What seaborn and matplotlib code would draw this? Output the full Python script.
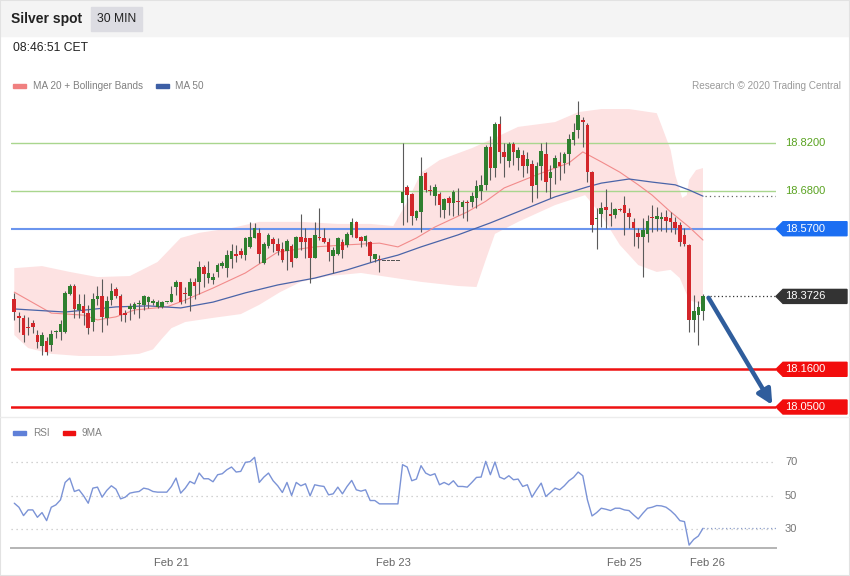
import numpy as np
import matplotlib
matplotlib.use("Agg")
import matplotlib.pyplot as plt
import matplotlib.transforms as mtransforms
from matplotlib.patches import Rectangle, Polygon
from matplotlib.lines import Line2D
import seaborn as sns

# 30 min candles
opens = [18.365, 18.315, 18.309, 18.283, 18.294, 18.260, 18.229, 18.244, 18.231, 18.268,
         18.268, 18.268, 18.380, 18.404, 18.333, 18.345, 18.323, 18.297, 18.364, 18.375,
         18.311, 18.362, 18.393, 18.374, 18.323, 18.335, 18.337, 18.350, 18.348, 18.355,
         18.354, 18.343, 18.341, 18.355, 18.357, 18.399, 18.414, 18.383, 18.374, 18.416,
         18.416, 18.459, 18.425, 18.421, 18.443, 18.462, 18.456, 18.482, 18.496, 18.505,
         18.493, 18.518, 18.544, 18.557, 18.469, 18.521, 18.540, 18.525, 18.511, 18.506,
         18.521, 18.486, 18.545, 18.544, 18.542, 18.484, 18.545, 18.542, 18.532, 18.491,
         18.495, 18.530, 18.523, 18.552, 18.591, 18.547, 18.535, 18.532, 18.482, 18.482,
         18.477, 18.477, 18.477, 18.477, 18.644, 18.693, 18.671, 18.600, 18.620, 18.732,
         18.682, 18.664, 18.671, 18.625, 18.659, 18.644, 18.651, 18.634, 18.649, 18.649,
         18.661, 18.680, 18.698, 18.809, 18.748, 18.874, 18.793, 18.768, 18.816, 18.777,
         18.785, 18.754, 18.758, 18.698, 18.754, 18.787, 18.719, 18.748, 18.766, 18.763,
         18.787, 18.829, 18.858, 18.887, 18.873, 18.736, 18.598, 18.613, 18.634, 18.612,
         18.610, 18.628, 18.639, 18.615, 18.591, 18.557, 18.547, 18.554, 18.605, 18.598,
         18.598, 18.604, 18.600, 18.589, 18.581, 18.552, 18.523, 18.304, 18.318, 18.330]
closes = [18.326, 18.309, 18.260, 18.280, 18.282, 18.241, 18.260, 18.210, 18.262, 18.272,
          18.291, 18.382, 18.404, 18.335, 18.351, 18.323, 18.280, 18.364, 18.374, 18.314,
          18.360, 18.387, 18.375, 18.317, 18.317, 18.346, 18.350, 18.353, 18.374, 18.370,
          18.359, 18.355, 18.357, 18.356, 18.380, 18.414, 18.357, 18.379, 18.414, 18.404,
          18.459, 18.438, 18.442, 18.430, 18.464, 18.469, 18.493, 18.506, 18.489, 18.493,
          18.542, 18.547, 18.571, 18.495, 18.525, 18.552, 18.525, 18.505, 18.479, 18.534,
          18.474, 18.547, 18.530, 18.530, 18.484, 18.552, 18.542, 18.530, 18.503, 18.507,
          18.544, 18.507, 18.554, 18.591, 18.544, 18.535, 18.550, 18.491, 18.495, 18.480,
          18.477, 18.477, 18.477, 18.477, 18.678, 18.668, 18.608, 18.622, 18.724, 18.683,
          18.680, 18.693, 18.639, 18.657, 18.644, 18.678, 18.647, 18.649, 18.646, 18.664,
          18.696, 18.698, 18.809, 18.748, 18.874, 18.793, 18.780, 18.816, 18.795, 18.800,
          18.754, 18.772, 18.696, 18.754, 18.798, 18.707, 18.734, 18.775, 18.754, 18.787,
          18.831, 18.851, 18.902, 18.882, 18.736, 18.581, 18.602, 18.631, 18.625, 18.608,
          18.628, 18.626, 18.615, 18.605, 18.573, 18.547, 18.566, 18.593, 18.600, 18.608,
          18.605, 18.593, 18.589, 18.573, 18.532, 18.525, 18.304, 18.330, 18.343, 18.373]
highs = [18.382, 18.328, 18.318, 18.314, 18.304, 18.275, 18.270, 18.255, 18.275, 18.275,
         18.304, 18.388, 18.408, 18.408, 18.380, 18.379, 18.348, 18.382, 18.403, 18.422,
         18.375, 18.411, 18.401, 18.380, 18.333, 18.353, 18.355, 18.362, 18.377, 18.374,
         18.364, 18.362, 18.359, 18.357, 18.404, 18.421, 18.416, 18.401, 18.427, 18.427,
         18.476, 18.464, 18.476, 18.440, 18.469, 18.476, 18.508, 18.525, 18.523, 18.513,
         18.547, 18.589, 18.586, 18.571, 18.532, 18.557, 18.547, 18.542, 18.532, 18.540,
         18.525, 18.550, 18.612, 18.573, 18.544, 18.591, 18.630, 18.573, 18.542, 18.518,
         18.547, 18.540, 18.560, 18.600, 18.593, 18.550, 18.552, 18.535, 18.495, 18.493,
         18.477, 18.477, 18.477, 18.477, 18.819, 18.698, 18.673, 18.625, 18.780, 18.734,
         18.698, 18.700, 18.678, 18.661, 18.664, 18.683, 18.690, 18.654, 18.654, 18.678,
         18.712, 18.727, 18.814, 18.841, 18.880, 18.900, 18.819, 18.824, 18.824, 18.809,
         18.800, 18.795, 18.770, 18.766, 18.819, 18.824, 18.756, 18.785, 18.793, 18.795,
         18.845, 18.877, 18.943, 18.897, 18.877, 18.738, 18.630, 18.649, 18.686, 18.649,
         18.630, 18.631, 18.664, 18.630, 18.600, 18.571, 18.600, 18.610, 18.639, 18.634,
         18.620, 18.625, 18.618, 18.605, 18.591, 18.571, 18.525, 18.377, 18.359, 18.379]
lows = [18.304, 18.270, 18.241, 18.260, 18.265, 18.221, 18.202, 18.202, 18.212, 18.250,
        18.246, 18.265, 18.377, 18.311, 18.311, 18.289, 18.262, 18.272, 18.348, 18.270,
        18.289, 18.348, 18.367, 18.301, 18.299, 18.303, 18.320, 18.311, 18.333, 18.338,
        18.348, 18.338, 18.338, 18.353, 18.355, 18.377, 18.350, 18.353, 18.330, 18.365,
        18.379, 18.401, 18.411, 18.409, 18.430, 18.456, 18.430, 18.455, 18.474, 18.484,
        18.479, 18.513, 18.542, 18.469, 18.466, 18.513, 18.503, 18.493, 18.474, 18.450,
        18.459, 18.484, 18.508, 18.484, 18.411, 18.484, 18.537, 18.527, 18.476, 18.440,
        18.493, 18.484, 18.518, 18.547, 18.542, 18.518, 18.521, 18.474, 18.474, 18.443,
        18.477, 18.477, 18.477, 18.477, 18.581, 18.591, 18.581, 18.596, 18.561, 18.678,
        18.668, 18.639, 18.605, 18.600, 18.610, 18.608, 18.610, 18.600, 18.593, 18.634,
        18.630, 18.654, 18.683, 18.712, 18.722, 18.761, 18.722, 18.751, 18.756, 18.741,
        18.722, 18.732, 18.649, 18.659, 18.712, 18.678, 18.659, 18.700, 18.712, 18.732,
        18.756, 18.814, 18.834, 18.809, 18.707, 18.561, 18.511, 18.576, 18.573, 18.579,
        18.600, 18.622, 18.552, 18.573, 18.521, 18.513, 18.430, 18.532, 18.561, 18.563,
        18.563, 18.561, 18.561, 18.554, 18.521, 18.521, 18.270, 18.270, 18.231, 18.304]

# RSI, one value per candle
rsi = [45.4, 43.0, 38.0, 41.4, 41.4, 37.0, 39.8, 35.0, 43.0, 44.4,
       47.4, 57.8, 60.4, 52.4, 53.4, 49.8, 45.4, 54.4, 55.0, 49.0,
       53.0, 55.8, 53.8, 48.0, 49.0, 51.4, 52.0, 52.4, 54.4, 53.8,
       52.4, 52.0, 52.0, 52.0, 55.4, 60.4, 51.4, 54.4, 58.4, 57.0,
       63.4, 60.0, 60.0, 58.2, 62.4, 63.0, 65.4, 67.0, 64.0, 64.4,
       69.8, 70.2, 72.8, 57.8, 61.0, 63.4, 58.8, 55.8, 51.8, 57.8,
       50.0, 57.8, 55.8, 57.0, 49.8, 56.4, 55.8, 55.4, 50.4, 51.0,
       55.0, 51.0, 55.4, 59.0, 53.4, 52.6, 53.4, 47.0, 47.0, 45.0,
       45.0, 45.0, 45.0, 45.0, 68.4, 67.0, 58.8, 59.8, 67.8, 63.4,
       62.0, 63.0, 56.4, 57.8, 56.4, 58.8, 55.4, 55.4, 55.0, 57.8,
       60.8, 61.0, 70.4, 62.4, 70.0, 61.0, 59.8, 61.8, 59.4, 59.8,
       55.4, 56.4, 49.0, 53.4, 57.4, 49.4, 51.8, 54.4, 53.4, 55.8,
       58.8, 60.8, 64.0, 61.8, 47.4, 37.8, 39.8, 42.4, 41.8, 41.0,
       42.4, 42.4, 41.4, 41.0, 38.4, 36.0, 39.4, 42.4, 43.0, 44.0,
       43.8, 43.0, 41.0, 38.4, 35.0, 34.4, 20.4, 23.8, 25.8, 30.4]

# moving averages and bollinger bands, sampled at some candles
ma20_idx = [0, 8, 15, 18, 22, 26, 33, 37, 43, 50, 57, 65, 72, 79, 83, 87, 91, 98, 102, 106,
            113, 120, 123, 127, 131, 135, 138, 142, 146, 149]
ma20 = [18.385, 18.324, 18.318, 18.304, 18.313, 18.333, 18.342, 18.362, 18.397, 18.441,
        18.502, 18.517, 18.523, 18.528, 18.517, 18.543, 18.575, 18.619, 18.650, 18.689,
        18.727, 18.762, 18.794, 18.765, 18.735, 18.698, 18.668, 18.619, 18.575, 18.537]
ma50_idx = [0, 11, 22, 29, 36, 43, 50, 57, 65, 72, 79, 83, 88, 96, 103, 110, 117, 124,
            127, 133, 138, 143, 146, 149]
ma50 = [18.336, 18.327, 18.342, 18.345, 18.339, 18.356, 18.383, 18.406, 18.426, 18.450,
        18.479, 18.493, 18.517, 18.552, 18.587, 18.625, 18.663, 18.692, 18.703, 18.715,
        18.706, 18.698, 18.683, 18.665]
bb_up_idx = [0, 6, 12, 18, 25, 31, 36, 40, 47, 53, 62, 70, 77, 82, 85, 88, 92, 99, 103, 109,
             117, 122, 127, 133, 139, 140, 142, 143, 144.5, 145.5, 146, 147.5, 149]
bb_up = [18.455, 18.461, 18.444, 18.429, 18.432, 18.473, 18.543, 18.558, 18.572, 18.590,
         18.590, 18.584, 18.584, 18.578, 18.648, 18.733, 18.770, 18.805, 18.829, 18.867,
         18.881, 18.910, 18.919, 18.919, 18.907, 18.872, 18.800, 18.727, 18.660, 18.668,
         18.712, 18.741, 18.747]
bb_lo_idx = [0, 3, 8, 14, 21, 27, 30, 32, 34, 37, 43, 49, 53, 57.5, 62, 68, 75, 81, 88, 96,
             100, 102, 104, 109, 117, 123.5, 127, 131, 135, 139, 142, 144, 146, 149]
bb_lo = [18.260, 18.222, 18.205, 18.199, 18.199, 18.205, 18.218, 18.250, 18.280, 18.298,
         18.310, 18.321, 18.348, 18.385, 18.415, 18.432, 18.441, 18.429, 18.415, 18.403,
         18.400, 18.479, 18.555, 18.590, 18.639, 18.668, 18.610, 18.523, 18.464, 18.444,
         18.450, 18.426, 18.362, 18.348]

resistances = [18.82, 18.68]
pivot = 18.57
supports = [18.16, 18.05]
last_price = 18.3726
rsi_levels = [70, 50, 30]
date_idx = [34, 82, 132, 150]
date_labels = ["Feb 21", "Feb 23", "Feb 25", "Feb 26"]

W, H = 850, 576
sns.set_theme(style="white")
plt.rcParams["font.family"] = ["Liberation Sans", "DejaVu Sans"]

fig = plt.figure(figsize=(W / 100, H / 100), dpi=100)


def px_rect(x0, y0, x1, y1):
    return [x0 / W, 1 - y1 / H, (x1 - x0) / W, (y1 - y0) / H]


def fx(x):
    return x / W


def fy(y):
    return 1 - y / H


# header and frame
fig.patches.append(Rectangle((0, fy(36)), 1, 36 / H, transform=fig.transFigure,
                             color="#f4f4f4", zorder=0))
fig.patches.append(Rectangle((fx(91), fy(31)), 51 / W, 24 / H, transform=fig.transFigure,
                             color="#dcdce2", zorder=1))
fig.patches.append(Rectangle((0, 0), 1, 1, transform=fig.transFigure, fill=False,
                             edgecolor="#e2e2e2", lw=1.5, zorder=1))
fig.lines.append(Line2D([0, 1], [fy(417), fy(417)], transform=fig.transFigure,
                        color="#ececec", lw=1))
fig.text(fx(11), fy(19.5), "Silver spot", fontsize=10, weight="bold", color="#222222", va="center")
fig.text(fx(116.5), fy(19.5), "30 MIN", fontsize=8.7, color="#222222", va="center", ha="center")
fig.text(fx(13), fy(48), "08:46:51 CET", fontsize=8.7, color="#222222", va="center")

# legends
fig.patches.append(Rectangle((fx(13), fy(88)), 13 / W, 4 / H, transform=fig.transFigure,
                             color="#f08080"))
fig.text(fx(33), fy(86), "MA 20 + Bollinger Bands", fontsize=7.2, color="#808080", va="center")
fig.patches.append(Rectangle((fx(156), fy(88)), 13 / W, 4 / H, transform=fig.transFigure,
                             color="#3d5fa5"))
fig.text(fx(175), fy(86), "MA 50", fontsize=7.2, color="#808080", va="center")
fig.text(fx(841), fy(86), "Research \u00a9 2020 Trading Central", fontsize=7.2,
         color="#9a9a9a", va="center", ha="right")
fig.patches.append(Rectangle((fx(13), fy(435)), 13 / W, 4 / H, transform=fig.transFigure,
                             color="#5f80d8"))
fig.text(fx(33), fy(433), "RSI", fontsize=7.2, color="#808080", va="center")
fig.patches.append(Rectangle((fx(63), fy(435)), 12 / W, 4 / H, transform=fig.transFigure,
                             color="#ee1111"))
fig.text(fx(82), fy(433), "9MA", fontsize=7.2, color="#808080", va="center")

n = len(closes)
idx = np.arange(n)
xlim = (-0.71, 164.8)

# ---- price panel ----
ax = fig.add_axes(px_rect(11, 95, 776, 417))
ax.set_xlim(*xlim)
ax.set_ylim(18.0209, 18.960)
ax.axis("off")
trans = mtransforms.blended_transform_factory(ax.transAxes, ax.transData)

band_x = np.r_[bb_up_idx, bb_lo_idx[::-1]]
band_y = np.r_[bb_up, bb_lo[::-1]]
ax.fill(band_x, band_y, color="#fde2e2", lw=0, zorder=1)

for lvl in resistances:
    ax.axhline(lvl, color="#a9d68e", lw=1, zorder=2)
    ax.text(1 + 9 / 765, lvl, f"{lvl:.4f}", transform=trans, color="#5aa321",
            fontsize=8, va="center", clip_on=False)
ax.axhline(pivot, color="#6b95ee", lw=1.5, zorder=2)
for lvl in supports:
    ax.axhline(lvl, color="#ee1111", lw=1.8, zorder=2)

sns.lineplot(x=ma20_idx, y=ma20, ax=ax, color="#f28b8b", linewidth=0.8, zorder=3)
sns.lineplot(x=ma50_idx, y=ma50, ax=ax, color="#4a64a8", linewidth=0.9, zorder=3)

o = np.array(opens)
c = np.array(closes)
body_col = np.where(c > o, "#2f7f2f", np.where(c < o, "#d3262a", "#555555"))
ax.vlines(idx, lows, highs, color="#5a5a5a", lw=0.8, zorder=4)
ax.bar(idx, np.maximum(np.abs(c - o), 0.0028), bottom=np.minimum(o, c), width=0.78,
       color=body_col, lw=0, zorder=5)

ax.hlines(last_price, n + 0.5, xlim[1], colors="#333333", linestyles=(0, (1, 2)), lw=0.9)
ax.hlines(ma50[-1], n - 0.5, xlim[1], colors="#666666", linestyles=(0, (1, 2.5)), lw=0.9)

ax.annotate("", xy=(n + 14, supports[1] + 0.006), xytext=(n + 0.2, last_price - 0.004),
            arrowprops=dict(arrowstyle="-|>", lw=3.2, color="#2f5d9c", mutation_scale=22,
                            shrinkA=0, shrinkB=0), zorder=6)


def tag(level, text, color):
    h = 14 / 342.9 / 2
    pts = [(1.0, level), (1 + 7 / 765, level + h), (1 + 71 / 765, level + h),
           (1 + 71 / 765, level - h), (1 + 7 / 765, level - h)]
    ax.add_patch(Polygon(pts, closed=True, transform=trans, color=color, clip_on=False))
    ax.text(1 + 9 / 765, level, text, transform=trans, color="white", fontsize=8,
            va="center", clip_on=False)


tag(pivot, f"{pivot:.4f}", "#1b6ef2")
tag(last_price, f"{last_price:.4f}", "#333333")
for lvl in supports:
    tag(lvl, f"{lvl:.4f}", "#f20d0d")

# ---- RSI panel ----
rax = fig.add_axes(px_rect(11, 420, 776, 548))
rax.set_xlim(*xlim)
rax.set_ylim(18.66, 95.07)
rtrans = mtransforms.blended_transform_factory(rax.transAxes, rax.transData)
for lvl in rsi_levels:
    rax.axhline(lvl, color="#c4c4c4", lw=0.9, ls=(0, (1, 3)))
    rax.text(1 + 9 / 765, lvl, str(lvl), transform=rtrans, color="#777777", fontsize=8,
             va="center", clip_on=False)
sns.lineplot(x=idx, y=rsi, ax=rax, color="#7b93d6", linewidth=1)
rax.hlines(rsi[-1], n - 1, xlim[1], colors="#8fa0cc", linestyles=(0, (1, 2)), lw=0.9)

for s in ["top", "left", "right"]:
    rax.spines[s].set_visible(False)
rax.spines["bottom"].set_color("#b4b4b4")
rax.spines["bottom"].set_linewidth(1.4)
rax.set_yticks([])
rax.set_xticks(date_idx)
rax.set_xticklabels(date_labels)
rax.tick_params(axis="x", which="major", length=0, pad=7, labelsize=8, labelcolor="#666666")
rax.set_xticks(list(xlim), minor=True)
rax.tick_params(axis="x", which="minor", length=4, width=1.4, color="#b4b4b4", direction="out")
rax.set_xlabel("")
rax.set_ylabel("")

fig.savefig("out.png", dpi=100)
